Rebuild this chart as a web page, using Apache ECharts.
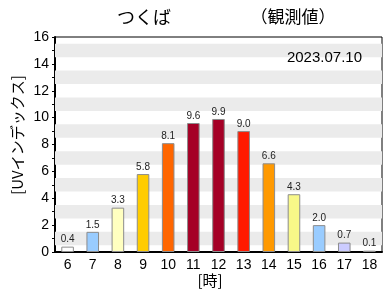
<!DOCTYPE html>
<html><head><meta charset="utf-8">
<script src="https://cdn.jsdelivr.net/npm/echarts@6/dist/echarts.min.js"></script>
<style>html,body{margin:0;padding:0;background:#fff}#c{width:388px;height:300px}</style>
</head><body><div id="c"></div>
<script>
var hours = ['6','7','8','9','10','11','12','13','14','15','16','17','18'];
var uvValues = [0.4,1.5,3.3,5.8,8.1,9.6,9.9,9.0,6.6,4.3,2.0,0.7,0.1];
var barColors = ['#ffffff','#99ccff','#ffffc0','#ffcc00','#ff6600','#a50026','#a50026','#ff1a00','#ff9900','#f8f888','#99ccff','#ccccff','#ffffff'];
var yTicks = [0,2,4,6,8,10,12,14,16];
var titleText = 'つくば';
var subText = '（観測値）';
var dateText = '2023.07.10';
var yName = '[UVインデックス]';
var xName = '[時]';

var bands = [];
for (var b = 1; b < 16; b += 2) bands.push([{yAxis: b - 0.5}, {yAxis: b + 0.5}]);

var font = '"Liberation Sans", Arial, sans-serif';
var cjk = '"Noto Sans CJK JP", sans-serif';
var chart = echarts.init(document.getElementById('c'), null, {renderer:'canvas'});
chart.setOption({
  animation: false,
  grid: {left: 55, right: 6, top: 37, bottom: 48, show: true, borderColor: '#000', borderWidth: 1},
  graphic: [
    {type:'text', z: 100, x: 144, y: 17, style:{text: titleText, font: '18px ' + cjk, fill:'#000', align:'center', verticalAlign:'middle'}},
    {type:'text', z: 100, x: 293, y: 17, style:{text: subText, font: '17px ' + cjk, fill:'#000', align:'center', verticalAlign:'middle'}},
    {type:'text', z: 100, x: 17, y: 135, rotation: Math.PI/2, style:{text: yName, font: '15px ' + cjk, fill:'#000', align:'center', verticalAlign:'middle'}},
    {type:'text', z: 100, x: 210, y: 280, style:{text: xName, font: '15px ' + cjk, fill:'#000', align:'center', verticalAlign:'middle'}},
    {type:'text', z: 100, x: 362, y: 58, style:{text: dateText, font: '15px ' + font, fill:'#000', align:'right', verticalAlign:'middle'}}
  ],
  xAxis: {
    type: 'category', data: hours,
    axisLine: {show: true, lineStyle: {color:'#000', width: 2}},
    axisTick: {show: false},
    axisLabel: {color:'#000', fontSize: 14, fontFamily: font, margin: 6}
  },
  yAxis: {
    type: 'value', min: 0, max: 16, interval: 2,
    axisLine: {show: true, lineStyle: {color:'#000', width: 2}},
    axisTick: {show: true, length: 3, lineStyle: {color:'#000'}},
    minorTick: {show: true, splitNumber: 2, length: 3, lineStyle: {color:'#000'}},
    splitLine: {show: false},
    axisLabel: {color:'#000', fontSize: 14, fontFamily: font, margin: 6,
      formatter: function(v){ return yTicks.indexOf(v) >= 0 ? String(v) : ''; }}
  },
  series: [{
    type: 'bar', barWidth: '50%',
    data: uvValues.map(function(v,i){ return {value: v, itemStyle: {color: barColors[i]}}; }),
    itemStyle: {borderColor: '#8c8c8c', borderWidth: 1},
    label: {show: true, position: 'top', distance: 2, color: '#222', fontSize: 10, fontFamily: font,
      formatter: function(p){ return p.value.toFixed(1); }},
    markArea: {silent: true, itemStyle: {color: '#ebebeb'}, data: bands},
    z: 3
  }]
});
</script></body></html>
